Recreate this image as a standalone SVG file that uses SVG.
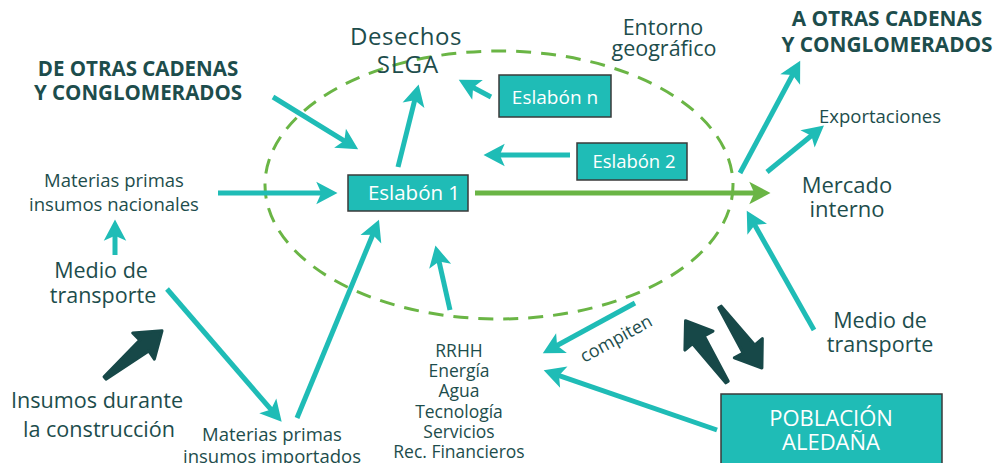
<svg xmlns="http://www.w3.org/2000/svg" width="995" height="463" viewBox="0 0 995 463">
<defs>
<style>
.t{font-family:"Open Sans","Liberation Sans",sans-serif;fill:#1d4d4c;text-anchor:middle}
.b{font-family:"Open Sans","Liberation Sans",sans-serif;font-weight:bold;fill:#1d4d4c;text-anchor:middle}
.w{font-family:"Open Sans","Liberation Sans",sans-serif;fill:#ffffff;text-anchor:middle}
.box{fill:#1fbcb6;stroke:#3a3a3a;stroke-width:1.5}
.ar{stroke:#1fbcb6;stroke-width:5;fill:none;marker-end:url(#mt)}
.dk{fill:#174848;stroke:#174848;stroke-width:3;stroke-linejoin:round}
</style>
<marker id="mt" markerUnits="userSpaceOnUse" markerWidth="30" markerHeight="30" refX="0" refY="0" viewBox="-10 -12 24 24" orient="auto" overflow="visible">
<path d="M-7,-9 L10,0 L-7,9 L-3,0 Z" fill="#1fbcb6"/>
</marker>
<marker id="mg" markerUnits="userSpaceOnUse" markerWidth="30" markerHeight="30" refX="0" refY="0" viewBox="-10 -12 24 24" orient="auto" overflow="visible">
<path d="M-7,-9 L10,0 L-7,9 L-3,0 Z" fill="#6ab545"/>
</marker>
<path id="bigarrow" d="M0,-1.5 L51,-7 L50,-17 L74,0 L50,17 L51,7 L0,1.5 Z"/>
</defs>

<g id="entorno">
<ellipse cx="499" cy="185" rx="234" ry="134" fill="none" stroke="#6ab545" stroke-width="3" stroke-dasharray="15 10"/>
</g>

<g id="connectors">
<line x1="475" y1="193" x2="758" y2="193" stroke="#6ab545" stroke-width="5" marker-end="url(#mg)"/>
<line class="ar" x1="273" y1="97" x2="347.5" y2="142.8"/>
<line class="ar" x1="398" y1="167" x2="415.6" y2="96.7"/>
<line class="ar" x1="491" y1="97" x2="469.8" y2="85.7"/>
<line class="ar" x1="570" y1="155" x2="496" y2="155"/>
<line class="ar" x1="218" y1="193" x2="325" y2="193"/>
<line class="ar" x1="115" y1="255" x2="115" y2="232"/>
<line class="ar" x1="167" y1="289" x2="273.5" y2="412.4"/>
<line class="ar" x1="297" y1="418" x2="374.2" y2="231.2"/>
<line class="ar" x1="450" y1="310" x2="438.2" y2="257.8"/>
<line class="ar" x1="635" y1="303" x2="553.8" y2="347.2"/>
<line class="ar" x1="717" y1="430" x2="555.5" y2="374.3"/>
<line class="ar" x1="814" y1="330" x2="752.9" y2="221.7"/>
<line class="ar" x1="740" y1="173" x2="794.3" y2="71.8"/>
<line class="ar" x1="767" y1="172" x2="814.3" y2="133.3"/>
<use href="#bigarrow" class="dk" transform="translate(105,378) rotate(-39.6)"/>
<use href="#bigarrow" class="dk" transform="translate(727,382) rotate(-124.1)"/>
<use href="#bigarrow" class="dk" transform="translate(720,307) rotate(55.5)"/>
<text class="t" font-size="18" transform="translate(619,344) rotate(-28.7)">compiten</text>
</g>

<g id="eslabon1">
<rect class="box" x="348" y="175" width="120" height="36"/>
<text class="w" x="414" y="200" font-size="20.5">Eslabón 1</text>
</g>
<g id="eslabonn">
<rect class="box" x="499" y="75" width="112" height="42"/>
<text class="w" x="555" y="104" font-size="19">Eslabón n</text>
</g>
<g id="eslabon2">
<rect class="box" x="577" y="143" width="110" height="37"/>
<text class="w" x="634" y="168" font-size="18.5">Eslabón 2</text>
</g>
<g id="poblacion">
<rect class="box" x="721" y="394" width="221" height="75"/>
<text class="w" x="831" y="426" font-size="22">POBLACIÓN</text>
<text class="w" x="831" y="450" font-size="22">ALEDAÑA</text>
</g>

<g id="desechos">
<text class="t" x="406" y="45" font-size="24" letter-spacing="0.5">Desechos</text>
<text class="t" x="408" y="73" font-size="24" letter-spacing="1">SLGA</text>
</g>
<g id="entorno-label">
<text class="t" x="663" y="35" font-size="21.5">Entorno</text>
<text class="t" x="664" y="56" font-size="21.5">geográfico</text>
</g>
<g id="de-otras">
<text class="b" x="138" y="76" font-size="20.5">DE OTRAS CADENAS</text>
<text class="b" x="138" y="100" font-size="20.5">Y CONGLOMERADOS</text>
</g>
<g id="a-otras">
<text class="b" x="887" y="26" font-size="20.8">A OTRAS CADENAS</text>
<text class="b" x="887" y="52" font-size="20.8">Y CONGLOMERADOS</text>
</g>
<g id="exportaciones">
<text class="t" x="880" y="123" font-size="18.5">Exportaciones</text>
</g>
<g id="mercado">
<text class="t" x="847" y="193" font-size="22">Mercado</text>
<text class="t" x="847" y="217" font-size="22">interno</text>
</g>
<g id="mp-nacionales">
<text class="t" x="114" y="187" font-size="18.5">Materias primas</text>
<text class="t" x="114" y="211" font-size="18.5">insumos nacionales</text>
</g>
<g id="transporte-izq">
<text class="t" x="101" y="278" font-size="21.5">Medio de</text>
<text class="t" x="103" y="303" font-size="21.5">transporte</text>
</g>
<g id="insumos-construccion">
<text class="t" x="97" y="408" font-size="21.6">Insumos durante</text>
<text class="t" x="99" y="437" font-size="21.6">la construcción</text>
</g>
<g id="mp-importados">
<text class="t" x="272" y="441" font-size="18.5">Materias primas</text>
<text class="t" x="272" y="463" font-size="18.5">insumos importados</text>
</g>
<g id="recursos">
<text class="t" x="459" y="357" font-size="17.5">RRHH</text>
<text class="t" x="459" y="377" font-size="17.5">Energía</text>
<text class="t" x="459" y="397" font-size="17.5">Agua</text>
<text class="t" x="459" y="418" font-size="17.5">Tecnología</text>
<text class="t" x="459" y="438" font-size="17.5">Servicios</text>
<text class="t" x="459" y="458" font-size="17.5">Rec. Financieros</text>
</g>
<g id="transporte-der">
<text class="t" x="880" y="328" font-size="21.5">Medio de</text>
<text class="t" x="880" y="352" font-size="21.5">transporte</text>
</g>
</svg>
